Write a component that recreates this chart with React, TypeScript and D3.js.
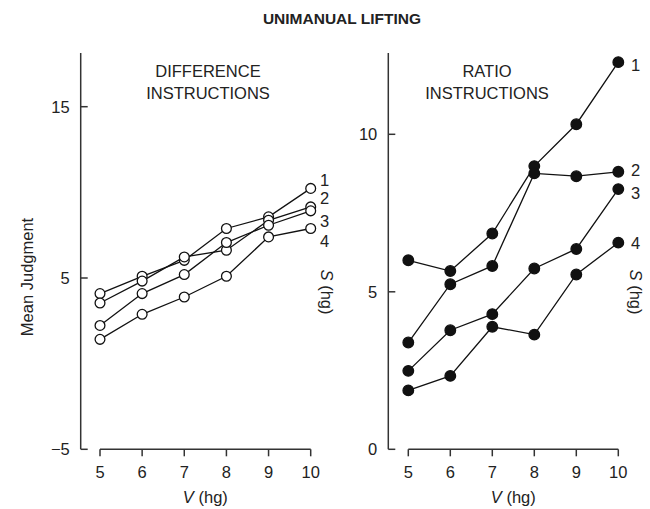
import React from "react";
import * as d3 from "d3";

const xValues = [5, 6, 7, 8, 9, 10];
const seriesLabels = ["1", "2", "3", "4"];

// Difference instructions (open circles)
const diff1 = [4.09, 5.1, 6.03, 7.89, 8.57, 10.23];
const diff2 = [3.54, 4.82, 6.23, 6.62, 8.37, 9.15];
const diff3 = [2.23, 4.09, 5.2, 7.07, 8.08, 8.92];
const diff4 = [1.42, 2.88, 3.89, 5.1, 7.4, 7.89];

// Ratio instructions (filled circles)
const ratio1 = [6.0, 5.66, 6.85, 8.99, 10.32, 12.29];
const ratio2 = [3.39, 5.24, 5.82, 8.76, 8.67, 8.81];
const ratio3 = [2.49, 3.78, 4.29, 5.74, 6.36, 8.26];
const ratio4 = [1.87, 2.33, 3.89, 3.64, 5.55, 6.56];

const diffTicks = [-5, 5, 15];
const ratioTicks = [0, 5, 10];

const FONT = "'Liberation Sans', Arial, Helvetica, sans-serif";
const TXT = "#222";
const AX = "#333";

type PanelProps = {
  series: number[][];
  filled: boolean;
  yDomain: [number, number];
  yRange: [number, number];
  yTicks: number[];
  axisX: number;
  xRange: [number, number];
  titleLines: string[];
  titleX: number;
  labelYs: number[];
  labelX: number;
  sLabelX: number;
};

function Panel(p: PanelProps) {
  const x = d3.scaleLinear().domain([5, 10]).range(p.xRange);
  const y = d3.scaleLinear().domain(p.yDomain).range(p.yRange);
  const baseY = 449.3;
  const topY = 53;
  const line = d3
    .line<number>()
    .x((_, i) => x(xValues[i]))
    .y((d) => y(d));
  return (
    <g>
      <line x1={p.axisX} x2={p.axisX} y1={topY} y2={baseY} stroke={AX} strokeWidth={1.5} />
      {p.yTicks.map((t) => (
        <g key={t}>
          <line x1={p.axisX} x2={p.axisX + 7} y1={y(t)} y2={y(t)} stroke={AX} strokeWidth={1.5} />
          <text
            x={p.axisX - 11}
            y={y(t)}
            dy="0.36em"
            textAnchor="end"
            fontSize={16.5}
            fill={TXT}
            fontFamily={FONT}
          >
            {t < 0 ? "\u2212" + Math.abs(t) : t}
          </text>
        </g>
      ))}
      <line x1={x(5)} x2={x(10)} y1={baseY} y2={baseY} stroke={AX} strokeWidth={1.5} />
      {xValues.map((v) => (
        <g key={v}>
          <line x1={x(v)} x2={x(v)} y1={baseY} y2={baseY + 7} stroke={AX} strokeWidth={1.5} />
          <text x={x(v)} y={477.5} textAnchor="middle" fontSize={16.5} fill={TXT} fontFamily={FONT}>
            {v}
          </text>
        </g>
      ))}
      <text
        x={(p.xRange[0] + p.xRange[1]) / 2}
        y={502.5}
        textAnchor="middle"
        fontSize={16.5}
        fill={TXT}
        fontFamily={FONT}
      >
        <tspan fontStyle="italic">V</tspan> (hg)
      </text>
      {p.titleLines.map((t, i) => (
        <text
          key={t}
          x={p.titleX}
          y={76.5 + i * 22}
          textAnchor="middle"
          fontSize={16.5}
          fill={TXT}
          fontFamily={FONT}
        >
          {t}
        </text>
      ))}
      {p.series.map((s, si) => (
        <path key={"l" + si} d={line(s) || ""} fill="none" stroke="#111" strokeWidth={1.3} />
      ))}
      {p.series.map((s, si) =>
        s.map((v, i) => (
          <circle
            key={"c" + si + "-" + i}
            cx={x(xValues[i])}
            cy={y(v)}
            r={p.filled ? 5.3 : 4.9}
            fill={p.filled ? "#111" : "#fff"}
            stroke="#111"
            strokeWidth={1.3}
          />
        ))
      )}
      {seriesLabels.map((l, i) => (
        <text
          key={l}
          x={p.labelX}
          y={p.labelYs[i]}
          dy="0.36em"
          fontSize={16.5}
          fill={TXT}
          fontFamily={FONT}
        >
          {l}
        </text>
      ))}
      <text
        transform={`translate(${p.sLabelX},292) rotate(90)`}
        textAnchor="middle"
        dy="0.36em"
        fontSize={16.5}
        fill={TXT}
        fontFamily={FONT}
      >
        <tspan fontStyle="italic">S</tspan> (hg)
      </text>
    </g>
  );
}

export default function App() {
  return (
    <svg
      width={650}
      height={509}
      viewBox="0 0 650 509"
      style={{ position: "absolute", left: 0, top: 0, background: "#fff" }}
    >
      <rect width={650} height={509} fill="#fff" />
      <text
        x={342}
        y={23.5}
        textAnchor="middle"
        fontSize={15.5}
        fontWeight="bold"
        fill={TXT}
        fontFamily={FONT}
      >
        UNIMANUAL LIFTING
      </text>
      <text
        transform="translate(27,277) rotate(-90)"
        textAnchor="middle"
        dy="0.36em"
        fontSize={16.5}
        fill={TXT}
        fontFamily={FONT}
      >
        Mean Judgment
      </text>
      <Panel
        series={[diff1, diff2, diff3, diff4]}
        filled={false}
        yDomain={[-5, 15]}
        yRange={[449.3, 106.7]}
        yTicks={diffTicks}
        axisX={80.7}
        xRange={[100, 310.7]}
        titleLines={["DIFFERENCE", "INSTRUCTIONS"]}
        titleX={208}
        labelYs={[180, 198, 221, 241]}
        labelX={320}
        sLabelX={327}
      />
      <Panel
        series={[ratio1, ratio2, ratio3, ratio4]}
        filled={true}
        yDomain={[0, 10]}
        yRange={[449.3, 134.3]}
        yTicks={ratioTicks}
        axisX={388.3}
        xRange={[408.3, 618.3]}
        titleLines={["RATIO", "INSTRUCTIONS"]}
        titleX={487}
        labelYs={[65, 170, 193, 243]}
        labelX={631}
        sLabelX={636}
      />
    </svg>
  );
}
